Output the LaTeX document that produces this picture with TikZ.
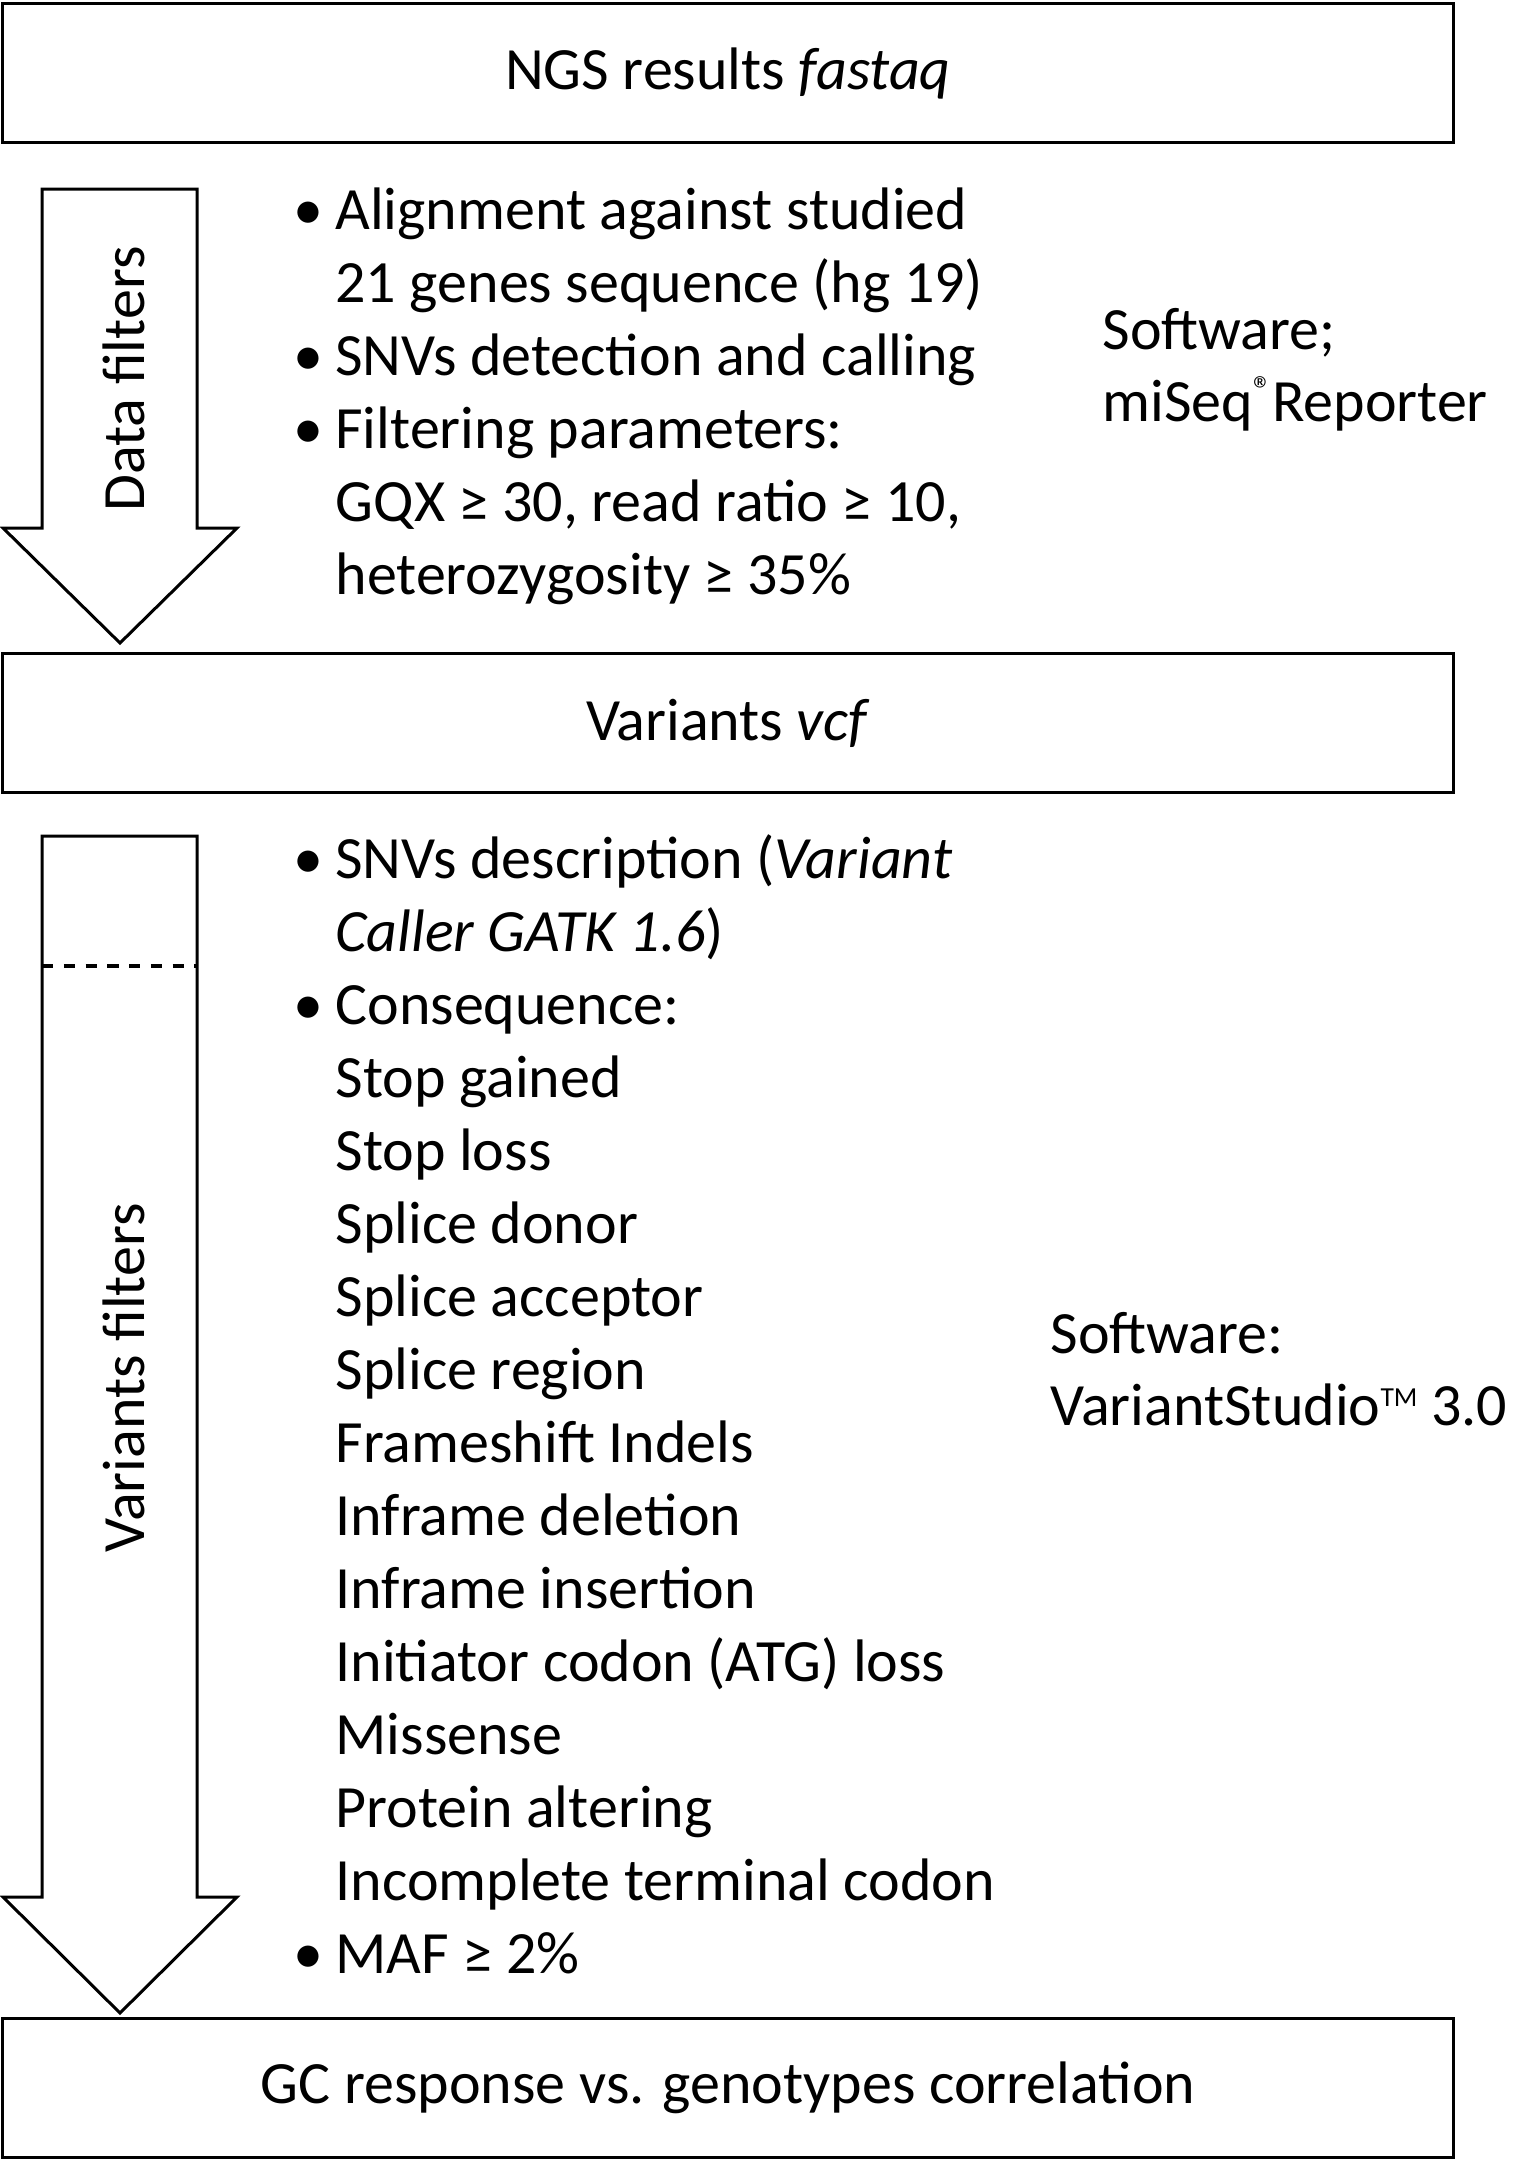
\documentclass[tikz,border=0pt]{standalone}
\usepackage{fontspec}
\setmainfont{Carlito}
\usetikzlibrary{positioning}

\tikzset{
  stagebox/.style={draw, line width=1.2pt, minimum width=1451*0.4pt, minimum height=139*0.4pt, inner sep=0pt},
  filterarrow/.style={draw, line width=1.2pt},
  listtext/.style={anchor=base west, align=left, inner sep=0pt, font=\fontsize{24}{29.2}\selectfont},
  sidetext/.style={anchor=base west, align=left, inner sep=0pt, font=\fontsize{24}{28.6}\selectfont},
  arrowlabel/.style={rotate=90, inner sep=0pt, font=\fontsize{24}{29.2}\selectfont}
}
\newcommand{\bul}{\makebox[16.8pt][l]{\textbullet}}
\newcommand{\ind}{\hspace*{16.8pt}}
\newcommand{\supmark}[2][11]{\raisebox{7.5pt}{\fontsize{#1}{#1}\selectfont #2}}

\begin{document}
\begin{tikzpicture}[x=0.4pt, y=-0.4pt]
      \useasboundingbox (0,0) rectangle (1520,2161);
      % stage boxes
      \node[stagebox, font=\fontsize{24}{29.2}\selectfont] (ngs) at (728,73) {NGS results \textit{fastaq}};
      \node[stagebox, font=\fontsize{24}{29.2}\selectfont] (vcf) at (728,723) {Variants \textit{vcf}};
      \node[stagebox, font=\fontsize{24}{29.2}\selectfont] (gc) at (728,2088) {GC response vs. genotypes correlation};

      % filter arrows
      \draw[filterarrow] (42,189) -- (197,189) -- (197,528) -- (237,528) -- (120,643)
            -- (3,528) -- (42,528) -- cycle;
      \node[arrowlabel] (datafilt) at (124,379) {Data filters};
      \draw[filterarrow] (42,836) -- (197,836) -- (197,1897) -- (237,1897) -- (120,2013)
            -- (3,1897) -- (42,1897) -- cycle;
      \draw[line width=1.3pt, dash pattern=on 4.5pt off 4.2pt] (42,966) -- (197,966);
      \node[arrowlabel] (varfilt) at (124,1378) {Variants filters};

      % first list (anchored at its last baseline)
      \node[listtext] (list1) at (293,594) {\bul Alignment against studied\\
        \ind 21 genes sequence (hg 19)\\
        \bul SNVs detection and calling\\
        \bul Filtering parameters:\\
        \ind GQX ≥ 30, read ratio ≥ 10,\\
        \ind heterozygosity ≥ 35\%};
      \node[sidetext] (soft1) at (1102,421) {Software;\\miSeq\supmark[15]{®}Reporter};

      % second list
      \node[listtext] (list2) at (293,1973) {\bul SNVs description (\textit{Variant}\\
        \ind\textit{Caller GATK 1.6})\\
        \bul Consequence:\\
        \ind Stop gained\\
        \ind Stop loss\\
        \ind Splice donor\\
        \ind Splice acceptor\\
        \ind Splice region\\
        \ind Frameshift Indels\\
        \ind Inframe deletion\\
        \ind Inframe insertion\\
        \ind Initiator codon (ATG) loss\\
        \ind Missense\\
        \ind Protein altering\\
        \ind Incomplete terminal codon\\
        \bul MAF ≥ 2\%};
      \node[sidetext] (soft2) at (1050,1425) {Software:\\VariantStudio\supmark{TM} 3.0};
\end{tikzpicture}
\end{document}
